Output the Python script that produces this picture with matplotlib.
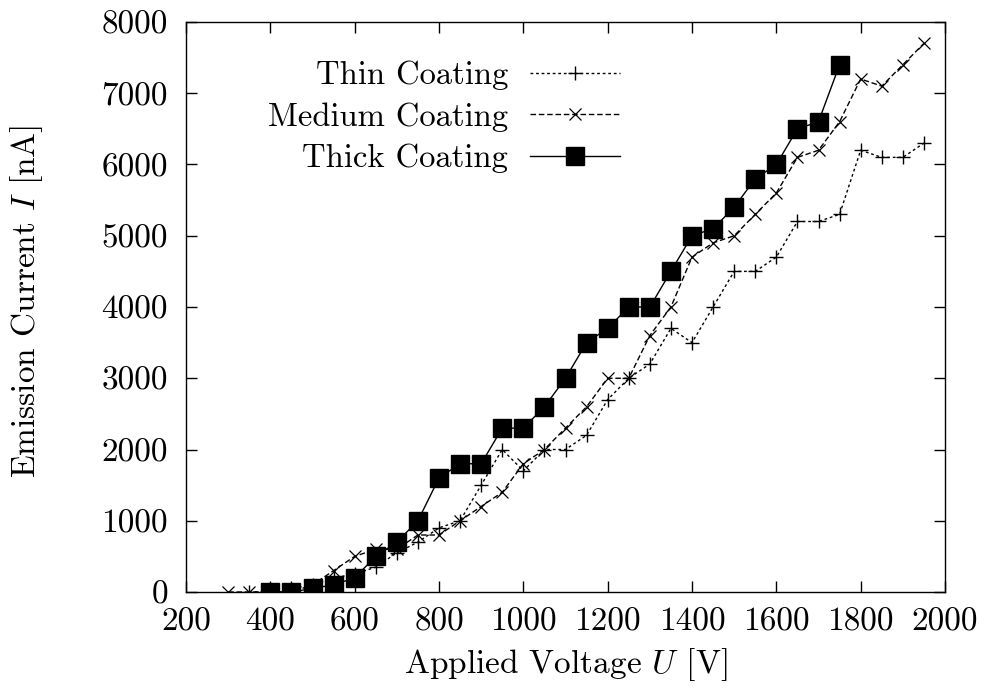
import matplotlib
matplotlib.use("Agg")
import matplotlib.pyplot as plt

plt.rcParams['font.family'] = 'serif'
plt.rcParams['font.serif'] = ['cmr10', 'DejaVu Serif']
plt.rcParams['mathtext.fontset'] = 'cm'
plt.rcParams['axes.formatter.use_mathtext'] = True

thin_u = [350, 400, 450, 500, 550, 600, 650, 700, 750, 800, 850, 900, 950, 1000,
          1050, 1100, 1150, 1200, 1250, 1300, 1350, 1400, 1450, 1500, 1550, 1600,
          1650, 1700, 1750, 1800, 1850, 1900, 1950]
thin_i = [0, 0, 50, 100, 200, 250, 350, 550, 700, 900, 1000, 1500, 2000, 1700,
          2000, 2000, 2200, 2700, 3000, 3200, 3700, 3500, 4000, 4500, 4500, 4700,
          5200, 5200, 5300, 6200, 6100, 6100, 6300]

medium_u = [300, 350, 400, 450, 500, 550, 600, 650, 700, 750, 800, 850, 900, 950,
            1000, 1050, 1100, 1150, 1200, 1250, 1300, 1350, 1400, 1450, 1500, 1550,
            1600, 1650, 1700, 1750, 1800, 1850, 1900, 1950]
medium_i = [0, 0, 0, 0, 100, 300, 500, 600, 600, 800, 800, 1000, 1200, 1400,
            1800, 2000, 2300, 2600, 3000, 3000, 3600, 4000, 4700, 4900, 5000, 5300,
            5600, 6100, 6200, 6600, 7200, 7100, 7400, 7700]

thick_u = [400, 450, 500, 550, 600, 650, 700, 750, 800, 850, 900, 950, 1000, 1050,
           1100, 1150, 1200, 1250, 1300, 1350, 1400, 1450, 1500, 1550, 1600, 1650,
           1700, 1750]
thick_i = [0, 0, 50, 100, 200, 500, 700, 1000, 1600, 1800, 1800, 2300, 2300, 2600,
           3000, 3500, 3700, 4000, 4000, 4500, 5000, 5100, 5400, 5800, 6000, 6500,
           6600, 7400]

x_ticks = [200, 400, 600, 800, 1000, 1200, 1400, 1600, 1800, 2000]
y_ticks = [0, 1000, 2000, 3000, 4000, 5000, 6000, 7000, 8000]

W, H = 984, 690
fig = plt.figure(figsize=(W / 100, H / 100), dpi=100)
ax = fig.add_axes([186 / W, 1 - 592 / H, (945 - 186) / W, (592 - 22) / H])

ax.plot(thin_u, thin_i, linestyle=(0, (2, 2)), color='black', linewidth=1.0,
        marker='+', markersize=10, markeredgewidth=1.0, label='Thin Coating')
ax.plot(medium_u, medium_i, linestyle=(0, (4, 2)), color='black', linewidth=1.0,
        marker='x', markersize=9, markeredgewidth=0.9, label='Medium Coating')
ax.plot(thick_u, thick_i, linestyle='-', color='black', linewidth=1.0,
        marker='s', markersize=12.5, label='Thick Coating')

ax.set_xlim(200, 2000)
ax.set_ylim(0, 8000)
ax.set_xticks(x_ticks)
ax.set_yticks(y_ticks)
ax.set_xticklabels([str(v) for v in x_ticks])
ax.set_yticklabels([str(v) for v in y_ticks])
ax.tick_params(direction='in', top=True, right=True, length=8, width=1,
               labelsize=24)
ax.tick_params(axis='x', pad=11)
ax.tick_params(axis='y', pad=13)
for s in ax.spines.values():
    s.set_linewidth(1.0)

ax.set_xlabel('Applied Voltage $U$ [V]', fontsize=24)
ax.set_ylabel('Emission Current $I$ [nA]', fontsize=24)
ax.xaxis.set_label_coords(0.5, -0.094)
ax.yaxis.set_label_coords(-0.186, 0.51)

leg = ax.legend(loc='upper right', bbox_to_anchor=(620 / W, 1 - 61 / H),
                bbox_transform=fig.transFigure, frameon=False,
                markerfirst=False, numpoints=1, fontsize=23.5, handlelength=2.76,
                handletextpad=0.67, labelspacing=0.36, borderpad=0,
                borderaxespad=0)

fig.savefig('out.png', dpi=100)
